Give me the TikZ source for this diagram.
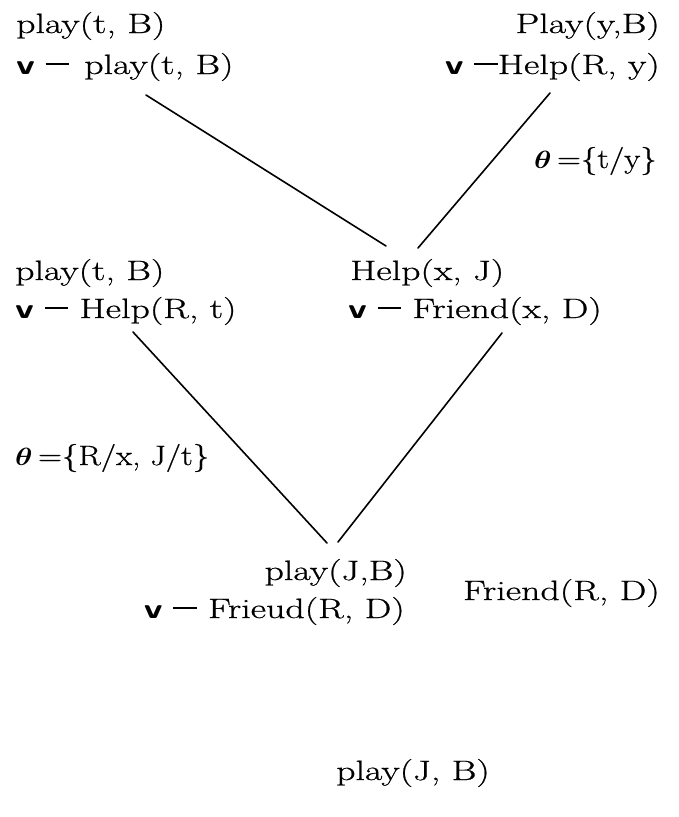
\documentclass[tikz,border=0pt]{standalone}
\usepackage{bm}
\usepackage{fontspec}
\setmainfont{Latin Modern Roman}[FakeBold=0.6]
\newcommand{\Tx}[1]{\scalebox{1.35}[1]{#1}}
\newcommand{\Th}[1]{\scalebox{1.18}[1]{#1}}
\newcommand{\orneg}{{\sffamily\bfseries v}\hspace{0.28em}\rule[0.33em]{0.62em}{0.07em}}
\tikzset{
  lbl/.style={inner sep=0pt, font=\fontsize{28}{32}\selectfont},
  conn/.style={line width=1.6pt, line cap=round},
}
\begin{document}
\begin{tikzpicture}[x=1pt,y=-1pt]
\useasboundingbox (0,0) rectangle (679,817);
% top left
\node[lbl, anchor=base west] (A1) at (16,33) {\Tx{play(t, B)}};
\node[lbl, anchor=base west] (A2) at (16,74) {\Tx{\orneg\hspace{0.1em} play(t, B)}};
% top right
\node[lbl, anchor=base east] (B1) at (660,33) {\Tx{Play(y,B)}};
\node[lbl, anchor=base east] (B2) at (660,74) {\Tx{\orneg Help(R, y)}};
\node[lbl, anchor=base east] (T1) at (657,168) {\Th{$\bm{\theta}$\,=\{t/y\}}};
% middle left
\node[lbl, anchor=base west] (C1) at (15,280) {\Tx{play(t, B)}};
\node[lbl, anchor=base west] (C2) at (15,318) {\Tx{\orneg\ Help(R, t)}};
% middle center
\node[lbl, anchor=base west] (D1) at (350,280) {\Tx{Help(x, J)}};
\node[lbl, anchor=base west] (D2) at (348,318) {\Tx{\orneg\ Friend(x, D)}};
\node[lbl, anchor=base west] (T2) at (15,465) {\Th{$\bm{\theta}$\,=\{R/x, J/t\}}};
% lower
\node[lbl, anchor=base east] (E1) at (407,580) {\Tx{play(J,B)}};
\node[lbl, anchor=base east] (E2) at (405,618) {\Tx{\orneg\ Frieud(R, D)}};
\node[lbl, anchor=base east] (F1) at (660,600) {\Tx{Friend(R, D)}};
\node[lbl, anchor=base west] (G1) at (336,780) {\Tx{play(J, B)}};
% connectors
\draw[conn] ([shift={(130,21)}]A2.base west) -- ([shift={(36,-34)}]D1.base west);
\draw[conn] ([shift={(-110,19)}]B2.base east) -- ([shift={(68,-32)}]D1.base west);
\draw[conn] ([shift={(118,14)}]C2.base west) -- ([shift={(-80,-37)}]E1.base east);
\draw[conn] ([shift={(154,15)}]D2.base west) -- ([shift={(-69,-38)}]E1.base east);
\end{tikzpicture}
\end{document}
